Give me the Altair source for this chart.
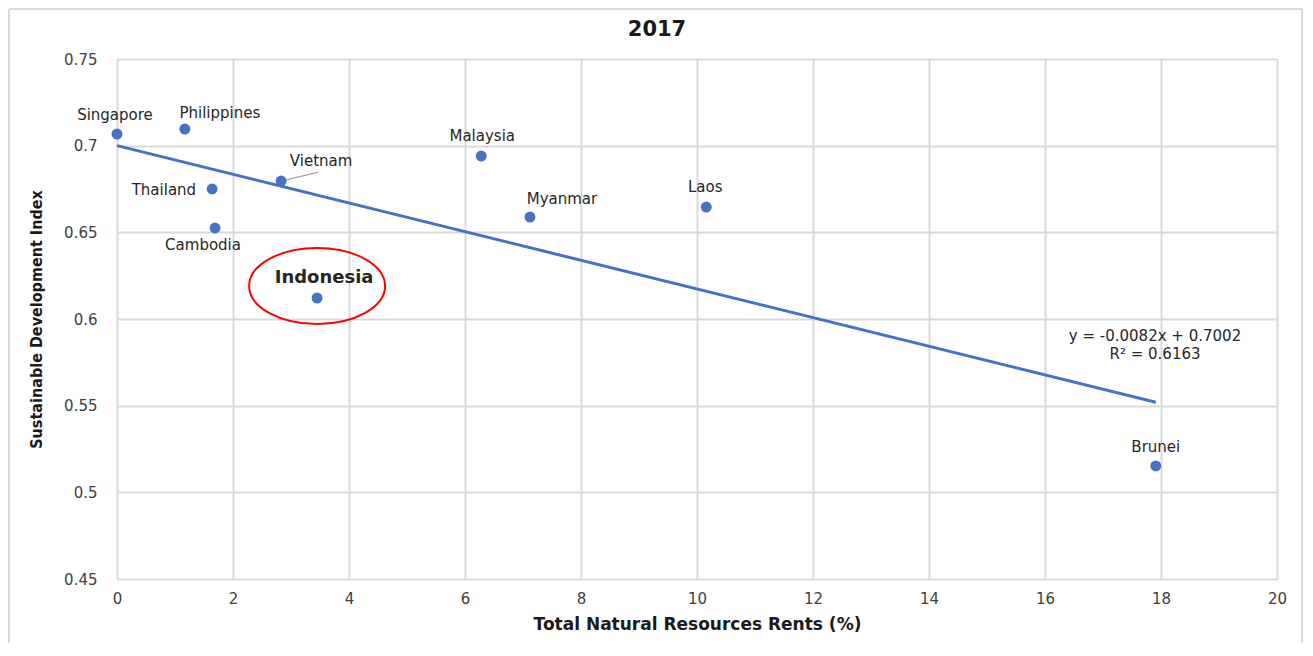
import altair as alt
import pandas as pd

# ---- data ----
countries = ["Singapore", "Philippines", "Thailand", "Cambodia", "Vietnam",
             "Indonesia", "Malaysia", "Myanmar", "Laos", "Brunei"]
rents = [0.0, 1.17, 1.64, 1.69, 2.83, 3.45, 6.28, 7.12, 10.16, 17.91]
sdi = [0.7067, 0.7096, 0.675, 0.6525, 0.6796, 0.6121, 0.694, 0.6588, 0.6646, 0.5152]
x_ticks = [0, 2, 4, 6, 8, 10, 12, 14, 16, 18, 20]
y_ticks = [0.45, 0.5, 0.55, 0.6, 0.65, 0.7, 0.75]
equation_lines = ["y = -0.0082x + 0.7002", "R² = 0.6163"]
title_text = "2017"
highlight = "Indonesia"
leader_country = "Vietnam"

df = pd.DataFrame({"country": countries, "rents": rents, "sdi": sdi})

BLUE = "#4472C4"
GRID = "#d9d9d9"
FONT = "DejaVu Sans"
W, H = 1160, 520

x_enc = alt.X("rents:Q", scale=alt.Scale(domain=[0, 20], nice=False, zero=False),
              axis=alt.Axis(values=x_ticks, title="Total Natural Resources Rents (%)",
                            titleY=45, titleBaseline="middle", labelPadding=12,
                            labelFlush=False))
y_enc = alt.Y("sdi:Q", scale=alt.Scale(domain=[0.45, 0.75], nice=False, zero=False),
              axis=alt.Axis(values=y_ticks, format=".2~f",
                            title="Sustainable Development Index",
                            titleX=-81, titleY=260, titleAngle=-90,
                            titleAlign="center", titleBaseline="middle",
                            titleFont="'DejaVu Sans Condensed', 'Liberation Sans', sans-serif",
                            titleFontSize=16, labelPadding=20, labelFlush=False))

base = alt.Chart(df).encode(x=x_enc, y=y_enc)

trend = base.transform_regression("rents", "sdi").mark_line(color=BLUE, strokeWidth=3)

points = base.mark_circle(color=BLUE, size=120, opacity=1)

ellipse_path = "M -1 0 A 1 0.56 0 1 0 1 0 A 1 0.56 0 1 0 -1 0 Z"
ellipse = base.transform_filter(alt.datum.country == highlight).mark_point(
    shape=ellipse_path, size=136 ** 2, filled=False, color="#ff0000",
    strokeWidth=2, opacity=1, yOffset=-12)

leader = base.transform_filter(alt.datum.country == leader_country).transform_calculate(
    x2="datum.rents + 0.64", y2="datum.sdi + 0.0052"
).mark_rule(color="#a6a6a6", strokeWidth=1.3).encode(x2="x2:Q", y2="y2:Q")

label_style = {
    "Singapore": dict(dx=-2, dy=-19),
    "Philippines": dict(dx=35, dy=-16),
    "Thailand": dict(dx=-16, dy=1, align="right"),
    "Cambodia": dict(dx=-12, dy=17),
    "Vietnam": dict(dx=40, dy=-20),
    "Indonesia": dict(dx=7, dy=-20, fontWeight="bold", fontSize=18),
    "Malaysia": dict(dx=1, dy=-20),
    "Myanmar": dict(dx=32, dy=-18),
    "Laos": dict(dx=-1, dy=-20),
    "Brunei": dict(dx=0, dy=-19),
}
labels = []
for c in countries:
    st = dict(font=FONT, fontSize=15, color="#262626", align="center", baseline="middle")
    st.update(label_style[c])
    labels.append(base.transform_filter(alt.datum.country == c)
                  .mark_text(**st).encode(text="country:N"))

one = pd.DataFrame({"a": [0]})
eq_layers = []
for i, line in enumerate(equation_lines):
    eq_layers.append(alt.Chart(one).mark_text(
        font=FONT, fontSize=15, color="#262626", align="center", baseline="middle"
    ).encode(x=alt.value(1038), y=alt.value(277 + i * 18), text=alt.value(line)))

title_layer = alt.Chart(one).mark_text(
    font=FONT, fontSize=21, fontWeight="bold", color="#1a1a1a",
    align="center", baseline="middle"
).encode(x=alt.value(540), y=alt.value(-29), text=alt.value(title_text))

border_left = alt.Chart(one).mark_rule(color=GRID, strokeWidth=2).encode(
    x=alt.value(-108), y=alt.value(-50), y2=alt.value(600))
border_top = alt.Chart(one).mark_rule(color=GRID, strokeWidth=2).encode(
    x=alt.value(-108), x2=alt.value(1185), y=alt.value(-50))
border_right = alt.Chart(one).mark_rule(color=GRID, strokeWidth=2).encode(
    x=alt.value(1185), y=alt.value(-50), y2=alt.value(600))

chart = alt.layer(
    border_left, border_top, border_right,
    trend, leader, points, ellipse, *labels, *eq_layers, title_layer
).properties(
    width=W, height=H,
    autosize=alt.AutoSizeParams(type="none"),
    padding={"left": 109, "top": 51, "right": 28, "bottom": 64},
).configure_view(stroke=None).configure_axis(
    grid=True, gridColor=GRID, gridWidth=2, domain=False, ticks=False,
    labelFont=FONT, labelFontSize=15, labelColor="#404040",
    titleFont=FONT, titleFontSize=17, titleFontWeight="bold", titleColor="#1a1a1a",
)

chart.save("out.html", embed_options={"renderer": "svg", "actions": False})
